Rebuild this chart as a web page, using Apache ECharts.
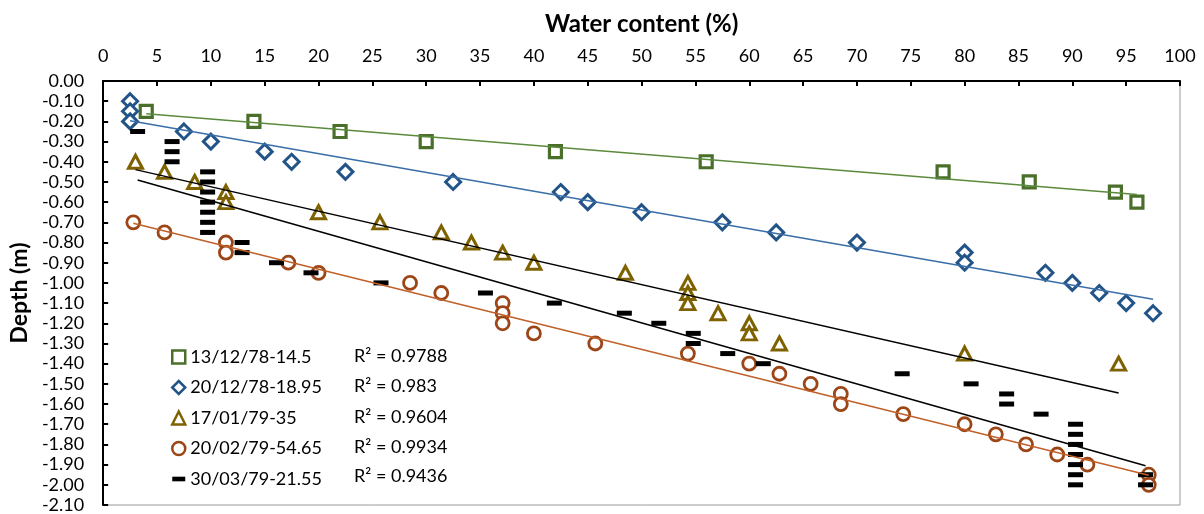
<!DOCTYPE html>
<html>
<head>
<meta charset="utf-8">
<title>Water content vs depth</title>
<script src="https://cdn.jsdelivr.net/npm/echarts@6/dist/echarts.min.js"></script>
<style>
    html, body { margin: 0; padding: 0; background: #fff; }
    #chart { width: 1204px; height: 514px; }
</style>
</head>
<body>
<div id="chart"></div>
<script>
// Series names (legend)
var seriesNames = ['13/12/78-14.5', '20/12/78-18.95', '17/01/79-35', '20/02/79-54.65', '30/03/79-21.55'];
var rSquared = ['R\u00B2 = 0.9788', 'R\u00B2 = 0.983', 'R\u00B2 = 0.9604', 'R\u00B2 = 0.9934', 'R\u00B2 = 0.9436'];

// Measured points [water content %, depth m]
var data1378 = [
    [4, -0.15], [14, -0.20], [22, -0.25], [30, -0.30], [42, -0.35],
    [56, -0.40], [78, -0.45], [86, -0.50], [94, -0.55], [96, -0.60]
];
var data2078 = [
    [2.5, -0.10], [2.5, -0.15], [2.5, -0.20], [7.5, -0.25], [10, -0.30], [15, -0.35],
    [17.5, -0.40], [22.5, -0.45], [32.5, -0.50], [42.5, -0.55], [45, -0.60], [50, -0.65],
    [57.5, -0.70], [62.5, -0.75], [70, -0.80], [80, -0.85], [80, -0.90], [87.5, -0.95],
    [90, -1.00], [92.5, -1.05], [95, -1.10], [97.5, -1.15]
];
var data1779 = [
    [3, -0.40], [5.7, -0.45], [8.5, -0.50], [11.4, -0.55], [11.4, -0.60], [20, -0.65],
    [25.7, -0.70], [31.4, -0.75], [34.2, -0.80], [37.1, -0.85], [40, -0.90], [48.5, -0.95],
    [54.3, -1.00], [54.3, -1.05], [54.3, -1.10], [57.1, -1.15], [60, -1.20], [60, -1.25],
    [62.8, -1.30], [80, -1.35], [94.3, -1.40]
];
var data2079 = [
    [2.8, -0.70], [5.7, -0.75], [11.4, -0.80], [11.4, -0.85], [17.2, -0.90], [20, -0.95],
    [28.5, -1.00], [31.4, -1.05], [37.1, -1.10], [37.1, -1.15], [37.1, -1.20], [40, -1.25],
    [45.7, -1.30], [54.3, -1.35], [60, -1.40], [62.8, -1.45], [65.7, -1.50], [68.5, -1.55],
    [68.5, -1.60], [74.3, -1.65], [80, -1.70], [82.9, -1.75], [85.7, -1.80], [88.6, -1.85],
    [91.4, -1.90], [97.1, -1.95], [97.1, -2.00]
];
var data3079 = [
    [3.2, -0.25], [6.4, -0.30], [6.4, -0.35], [6.4, -0.40], [9.7, -0.45], [9.7, -0.50],
    [9.7, -0.55], [9.7, -0.60], [9.7, -0.65], [9.7, -0.70], [9.7, -0.75], [12.9, -0.80],
    [12.9, -0.85], [16.1, -0.90], [19.3, -0.95], [25.8, -1.00], [35.5, -1.05], [41.9, -1.10],
    [48.4, -1.15], [51.6, -1.20], [54.8, -1.25], [54.8, -1.30], [58, -1.35], [61.3, -1.40],
    [74.2, -1.45], [80.6, -1.50], [83.9, -1.55], [83.9, -1.60], [87.1, -1.65], [90.3, -1.70],
    [90.3, -1.75], [90.3, -1.80], [90.3, -1.85], [90.3, -1.90], [90.3, -1.95], [90.3, -2.00],
    [96.8, -1.95], [96.8, -2.00]
];

// Linear trendline end points
var trend1378 = [[4, -0.162], [96, -0.562]];
var trend2078 = [[2.5, -0.197], [97.5, -1.081]];
var trend1779 = [[3, -0.439], [94.3, -1.545]];
var trend2079 = [[2.8, -0.705], [97.1, -1.953]];
var trend3079 = [[3.2, -0.49], [96.8, -1.906]];

// Axis settings
var xTicks = { min: 0, max: 100, interval: 5 };
var yTicks = { min: -2.1, max: 0, interval: 0.1 };

var fontName = 'Lato, "Open Sans", sans-serif';

var chart_element = document.getElementById('chart');

if (chart_element) {

    // Initialize chart
    var chart = echarts.init(chart_element, null, { renderer: 'canvas' });

    // Marker series helper
    var markerSeries = function (name, data, symbol, size, fill, stroke, width) {
        return {
            name: name,
            type: 'scatter',
            data: data,
            symbol: symbol,
            symbolSize: size,
            z: 3,
            itemStyle: {
                color: fill,
                borderColor: stroke,
                borderWidth: width,
                opacity: 1
            }
        };
    };

    // Trendline helper
    var trendSeries = function (data, color) {
        return {
            type: 'line',
            data: data,
            symbol: 'none',
            silent: true,
            z: 4,
            lineStyle: { color: color, width: 1.5 }
        };
    };

    // R² labels
    var rLabels = rSquared.map(function (txt, i) {
        return {
            type: 'text',
            left: 354,
            top: 347 + i * 30.5 - (i === 4 ? 2 : 0),
            style: {
                text: txt,
                fill: '#000',
                font: '18px ' + fontName
            }
        };
    });

    chart.setOption({
        animation: false,
        backgroundColor: '#fff',

        textStyle: {
            fontFamily: fontName
        },

        // Setup grid
        grid: {
            left: 101,
            right: 24,
            top: 81,
            bottom: 8,
            show: true,
            borderColor: '#999',
            borderWidth: 1
        },

        // Legend inside plot, bottom-left
        legend: {
            orient: 'vertical',
            left: 166,
            top: 343,
            itemWidth: 13,
            itemHeight: 13,
            itemGap: 12.5,
            textStyle: {
                fontSize: 18,
                color: '#000',
                fontFamily: fontName
            },
            data: [
                { name: seriesNames[0], itemStyle: { borderWidth: 2.5 } },
                { name: seriesNames[1], itemStyle: { borderWidth: 2.5 } },
                { name: seriesNames[2], itemStyle: { borderWidth: 2.5 } },
                { name: seriesNames[3], itemStyle: { borderWidth: 2.5 } },
                { name: seriesNames[4], icon: 'path://M0,0 L14,0 L14,5 L0,5 Z' }
            ]
        },

        graphic: rLabels,

        // Horizontal axis
        xAxis: {
            type: 'value',
            position: 'top',
            min: xTicks.min,
            max: xTicks.max,
            interval: xTicks.interval,
            name: 'Water content (%)',
            nameLocation: 'middle',
            nameGap: 45,
            nameTextStyle: {
                fontSize: 24,
                fontWeight: 'bold',
                color: '#000',
                fontFamily: fontName
            },
            axisLine: { lineStyle: { color: '#000', width: 2 } },
            axisTick: { inside: true, length: 5, lineStyle: { color: '#000', width: 2 } },
            axisLabel: { fontSize: 18, color: '#000', margin: 16 },
            splitLine: { show: false }
        },

        // Vertical axis
        yAxis: {
            type: 'value',
            min: yTicks.min,
            max: yTicks.max,
            interval: yTicks.interval,
            name: 'Depth (m)',
            nameLocation: 'middle',
            nameGap: 66,
            nameRotate: 90,
            nameTextStyle: {
                fontSize: 23,
                fontWeight: 'bold',
                color: '#000',
                fontFamily: fontName
            },
            axisLine: { show: true, lineStyle: { color: '#000', width: 2 } },
            axisTick: { show: true, inside: true, length: 5, lineStyle: { color: '#000', width: 2 } },
            axisLabel: {
                fontSize: 18,
                color: '#000',
                margin: 19,
                formatter: function (v) { return v.toFixed(2); }
            },
            splitLine: { show: false }
        },

        // Add series
        series: [
            markerSeries(seriesNames[0], data1378, 'rect', 12, '#fff', '#4a6f2a', 3.2),
            markerSeries(seriesNames[1], data2078, 'diamond', 15, '#fff', '#235488', 3),
            markerSeries(seriesNames[2], data1779, 'triangle', [14, 13], '#fff', '#7f6200', 3),
            markerSeries(seriesNames[3], data2079, 'circle', 13, '#fff', '#9c4516', 2.8),
            markerSeries(seriesNames[4], data3079, 'rect', [15, 5], '#000', '#000', 0),
            trendSeries(trend1378, '#5b8a3c'),
            trendSeries(trend2078, '#3a6ea8'),
            trendSeries(trend1779, '#000'),
            trendSeries(trend2079, '#c0602a'),
            trendSeries(trend3079, '#000')
        ]
    });

    // Resize function
    window.addEventListener('resize', function () {
        chart.resize();
    });
}
</script>
</body>
</html>
